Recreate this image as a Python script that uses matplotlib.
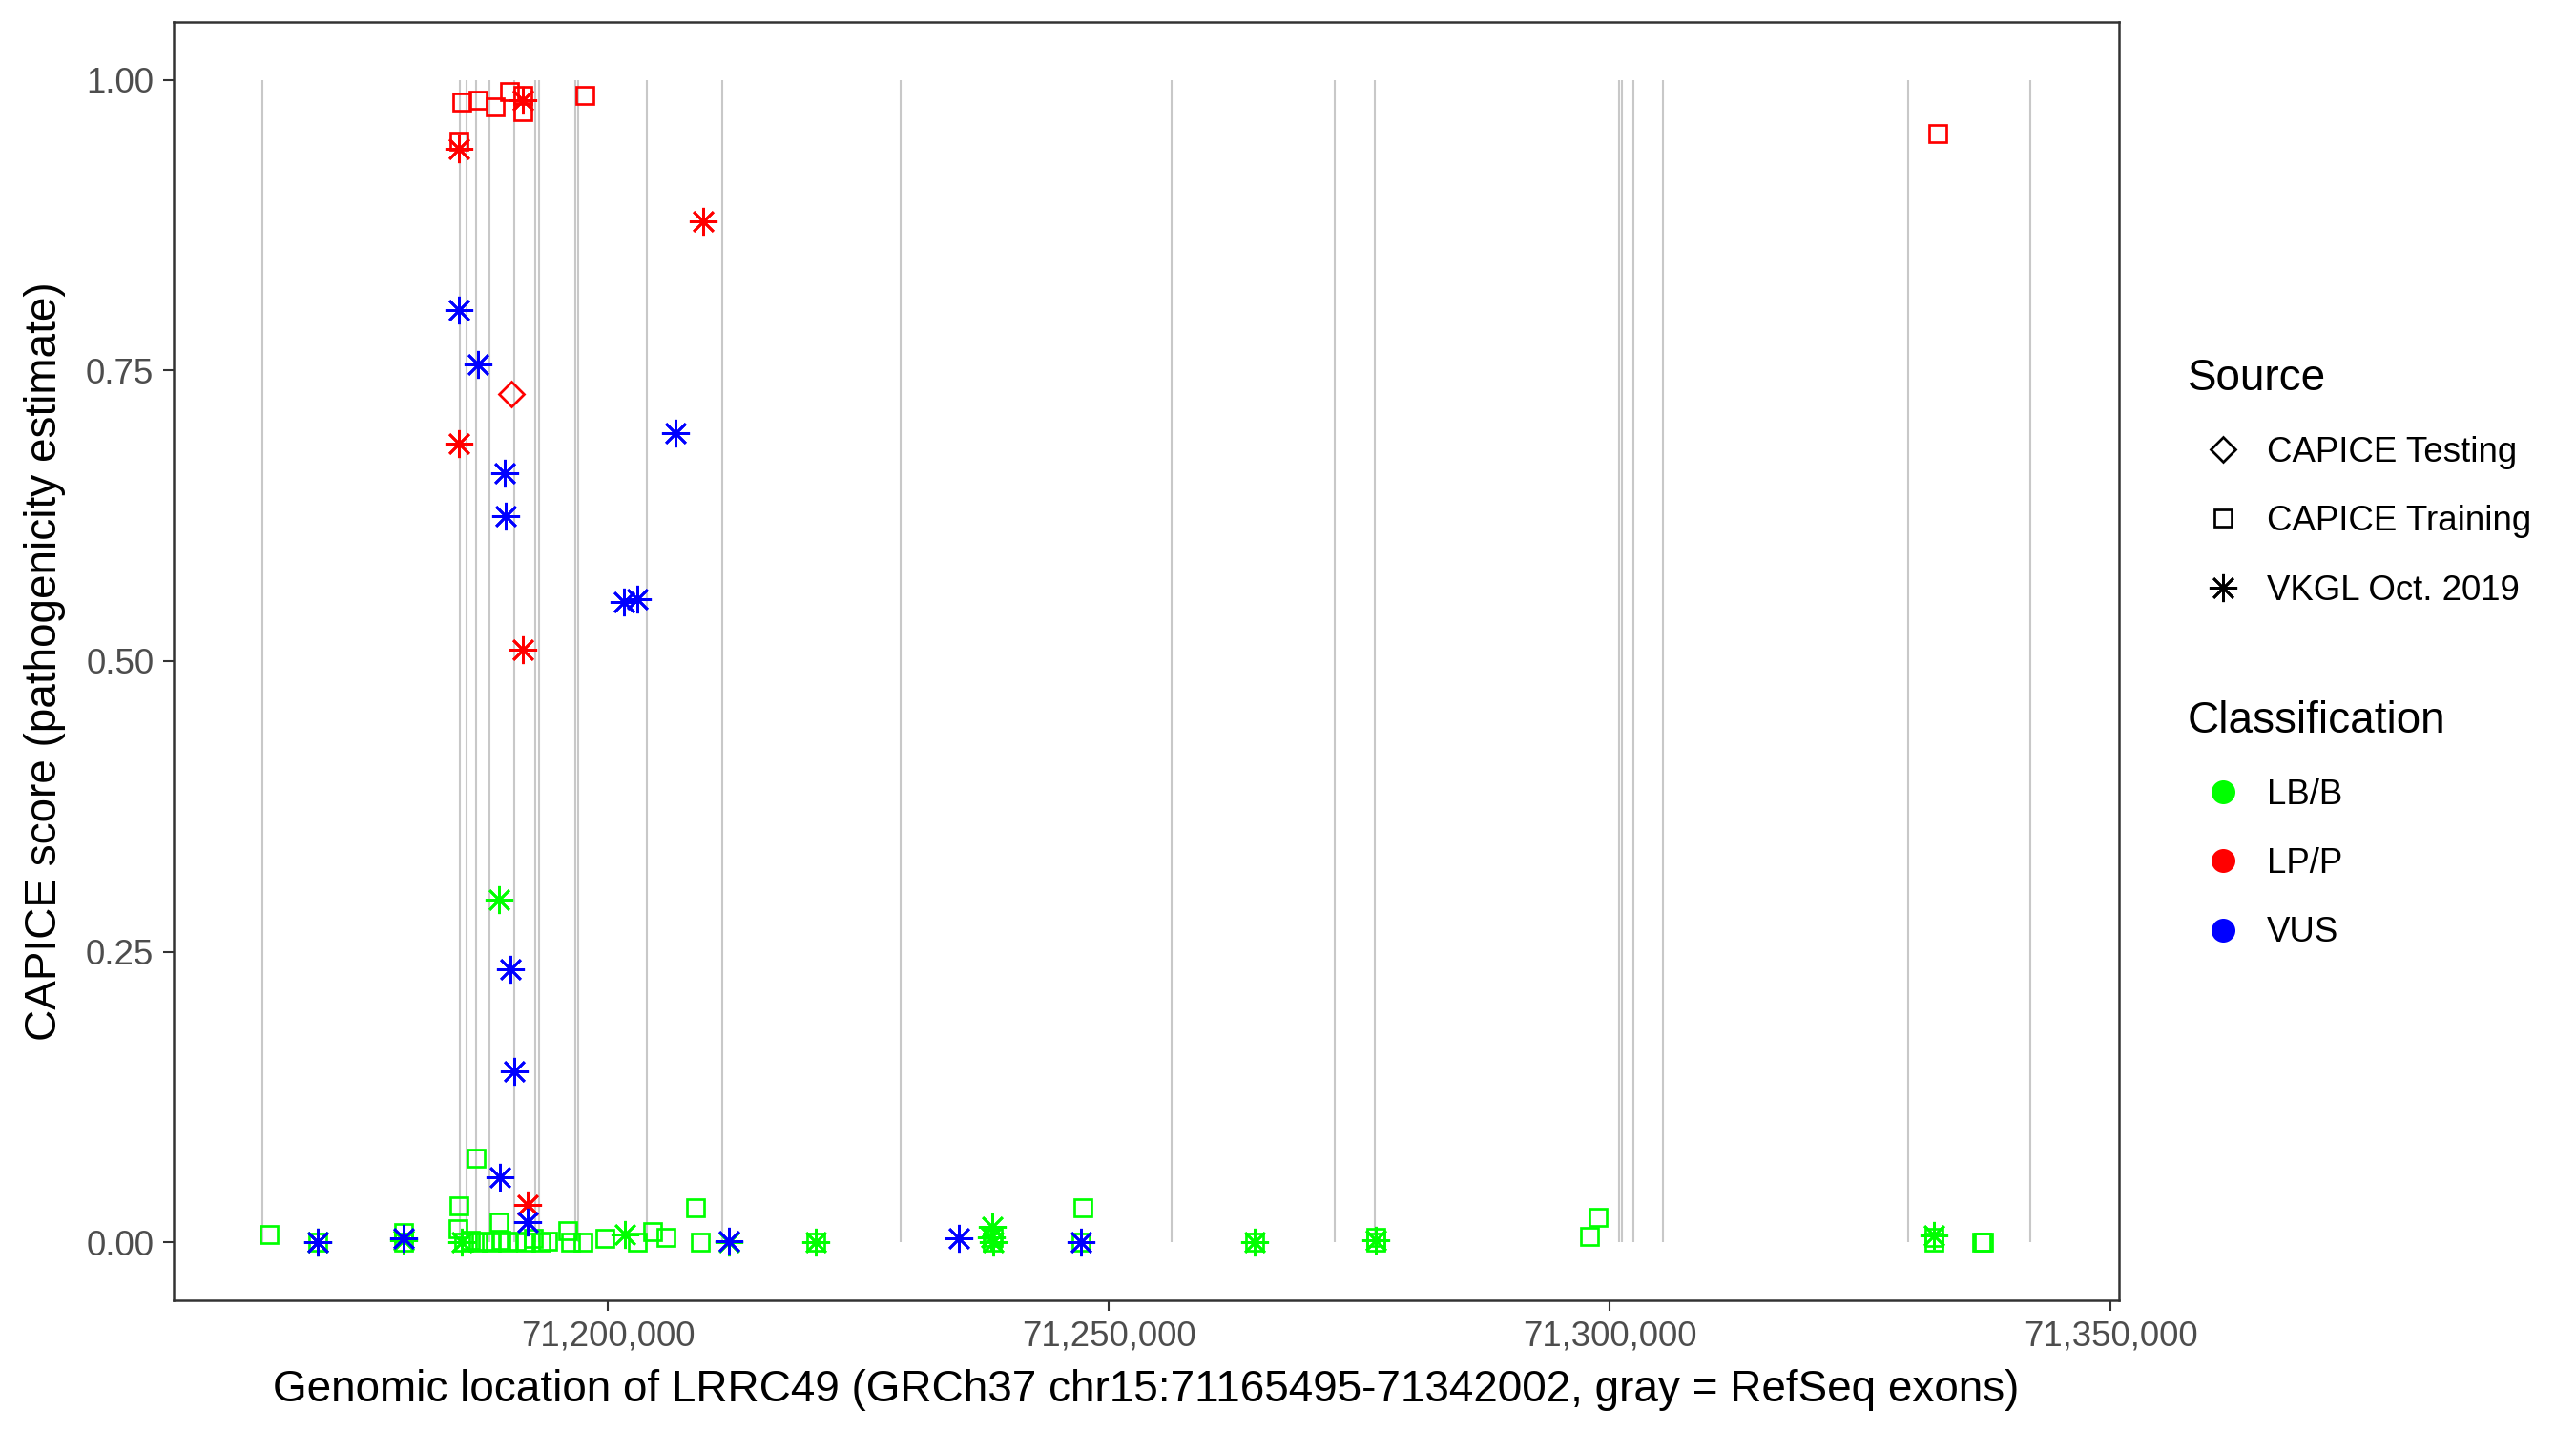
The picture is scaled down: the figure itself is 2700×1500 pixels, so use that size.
import matplotlib
matplotlib.use('Agg')
import matplotlib.pyplot as plt
from matplotlib.lines import Line2D
from matplotlib.ticker import FuncFormatter

plt.rcParams['font.family'] = ['Liberation Sans', 'DejaVu Sans']

# gene region and RefSeq exons (bp, GRCh37 chr15)
gene_start = 71165495
gene_end = 71342002
exon_pos = [71165495, 71185190, 71185905, 71186857, 71188190, 71190695,
            71192743, 71193143, 71196800, 71197050, 71203857, 71211428,
            71229190, 71256238, 71272571, 71276571, 71300905, 71301200,
            71302314, 71305314, 71329743, 71342002]

# CAPICE Training, LP/P
train_lpp_pos = [71185114, 71185428, 71187047, 71188762, 71190219, 71191495,
                 71191495, 71197685, 71332762]
train_lpp_score = [0.947, 0.981, 0.983, 0.977, 0.990, 0.987, 0.973, 0.987, 0.954]

# CAPICE Testing, LP/P
test_lpp_pos = [71190371]
test_lpp_score = [0.730]

# VKGL, LP/P
vkgl_lpp_pos = [71185114, 71185100, 71191552, 71191524, 71192009, 71209505]
vkgl_lpp_score = [0.941, 0.687, 0.983, 0.510, 0.032, 0.878]

# VKGL, VUS
vkgl_vus_pos = [71185124, 71187019, 71189700, 71189800, 71206741, 71201619,
                71202924, 71190314, 71190695, 71189209, 71192009, 71171076,
                71179657, 71212076, 71235047, 71247200]
vkgl_vus_score = [0.802, 0.755, 0.662, 0.625, 0.696, 0.551, 0.553, 0.235,
                  0.147, 0.056, 0.017, 0.000, 0.003, 0.001, 0.003, 0.000]

# VKGL, LB/B
vkgl_lbb_pos = [71189171, 71201743, 71238381, 71238476, 71238300, 71212076,
                71220714, 71264552, 71276666, 71332362, 71179657, 71171076,
                71185400]
vkgl_lbb_score = [0.295, 0.007, 0.013, 0.000, 0.004, 0.000, 0.000, 0.000,
                  0.002, 0.006, 0.002, 0.000, 0.000]

# CAPICE Training, LB/B
train_lbb_pos = [71166209, 71171076, 71179657, 71179657, 71185067, 71185181,
                 71186885, 71189114, 71185600, 71186300, 71187000, 71187700,
                 71188400, 71189300, 71190000, 71190900, 71191800, 71192600,
                 71193300, 71194000, 71196000, 71196300, 71197500, 71199666,
                 71202952, 71204476, 71205847, 71208800, 71209238, 71220714,
                 71238381, 71238476, 71247457, 71247200, 71264552, 71276666,
                 71276666, 71297981, 71298857, 71332362, 71332362, 71337085,
                 71337300]
train_lbb_score = [0.0066, 0.000, 0.0085, 0.000, 0.0115, 0.0312, 0.072, 0.0175,
                   0.000, 0.002, 0.000, 0.001, 0.000, 0.002, 0.000, 0.001,
                   0.000, 0.003, 0.000, 0.001, 0.0101, 0.000, 0.000, 0.0033,
                   0.000, 0.0088, 0.0039, 0.0298, 0.000, 0.000, 0.000, 0.004,
                   0.0298, 0.000, 0.000, 0.000, 0.004, 0.0047, 0.0216, 0.000,
                   0.004, 0.000, 0.000]

x_ticks = [71200000, 71250000, 71300000, 71350000]
y_ticks = [0.00, 0.25, 0.50, 0.75, 1.00]

COLORS = {'LB/B': '#00FF00', 'LP/P': '#FF0000', 'VUS': '#0000FF'}
SHAPES = {'CAPICE Testing': ('D', 4.3), 'CAPICE Training': ('s', 4.1),
          'VKGL Oct. 2019': ((8, 2, 0), 7.0)}
MEW = 0.65

fig = plt.figure(figsize=(9, 5), dpi=300)
ax = fig.add_axes([0.0674, 0.0913, 0.8226 - 0.0674, 0.9847 - 0.0913])

ax.vlines(exon_pos, 0, 1, color='#C8C8C8', linewidth=0.5, zorder=1)


def draw(pos, score, source, cls):
    marker, ms = SHAPES[source]
    ax.plot(pos, score, linestyle='none', marker=marker, ms=ms,
            markerfacecolor='none', markeredgecolor=COLORS[cls], mew=MEW,
            zorder=3)


draw(train_lbb_pos, train_lbb_score, 'CAPICE Training', 'LB/B')
draw(vkgl_lbb_pos, vkgl_lbb_score, 'VKGL Oct. 2019', 'LB/B')
draw(train_lpp_pos, train_lpp_score, 'CAPICE Training', 'LP/P')
draw(test_lpp_pos, test_lpp_score, 'CAPICE Testing', 'LP/P')
draw(vkgl_lpp_pos, vkgl_lpp_score, 'VKGL Oct. 2019', 'LP/P')
draw(vkgl_vus_pos, vkgl_vus_score, 'VKGL Oct. 2019', 'VUS')

span = gene_end - gene_start
ax.set_xlim(gene_start - 0.05 * span, gene_end + 0.05 * span)
ax.set_ylim(-0.05, 1.05)
ax.set_xticks(x_ticks)
ax.set_yticks(y_ticks)
ax.xaxis.set_major_formatter(FuncFormatter(lambda v, p: f'{int(v):,}'))
ax.yaxis.set_major_formatter(FuncFormatter(lambda v, p: f'{v:.2f}'))
ax.tick_params(length=2.75, width=0.5, color='#333333', labelsize=8.8,
               labelcolor='#4D4D4D', pad=2.2)
for sp in ax.spines.values():
    sp.set_linewidth(0.6)
    sp.set_color('#333333')

ax.set_xlabel('Genomic location of LRRC49 (GRCh37 chr15:71165495-71342002, gray = RefSeq exons)',
              fontsize=11, labelpad=4)
ax.set_ylabel('CAPICE score (pathogenicity estimate)', fontsize=11, labelpad=5)

# legends
src_handles = [Line2D([], [], linestyle='none', marker=m, ms=s, color='black',
                      markerfacecolor='none', mew=MEW)
               for m, s in SHAPES.values()]
leg1 = fig.legend(src_handles, list(SHAPES.keys()), title='Source',
                  loc='upper left', bbox_to_anchor=(0.8493, 0.7497),
                  frameon=False, alignment='left', fontsize=8.8,
                  title_fontsize=11, labelspacing=1.02, handlelength=2.0,
                  handletextpad=0.25, borderpad=0, borderaxespad=0)

cls_handles = [Line2D([], [], linestyle='none', marker='o', ms=5.0, color=c)
               for c in COLORS.values()]
leg2 = fig.legend(cls_handles, list(COLORS.keys()), title='Classification',
                  loc='upper left', bbox_to_anchor=(0.8493, 0.5105),
                  frameon=False, alignment='left', fontsize=8.8,
                  title_fontsize=11, labelspacing=1.02, handlelength=2.0,
                  handletextpad=0.25, borderpad=0, borderaxespad=0)

fig.savefig('out.png', dpi=300)
